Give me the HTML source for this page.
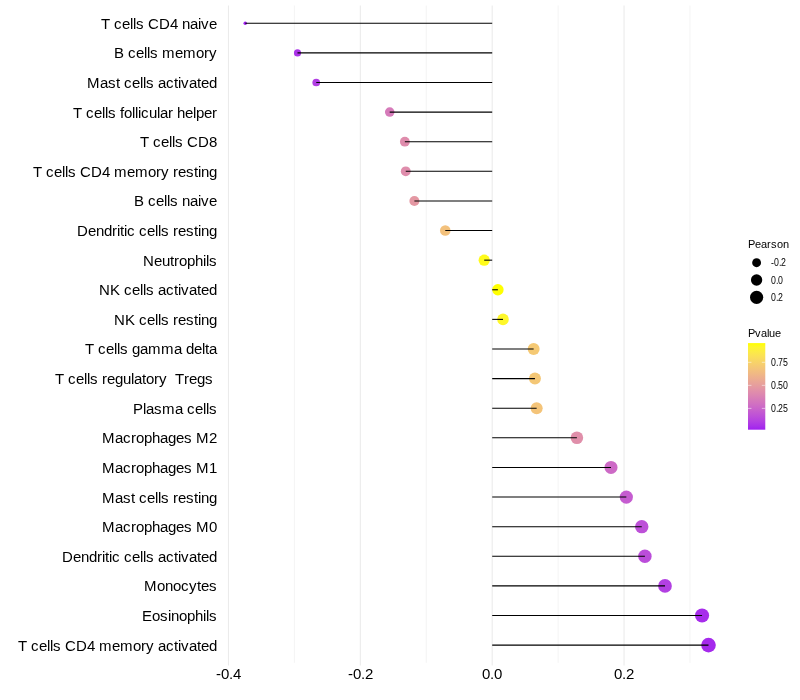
<!DOCTYPE html>
<html><head><meta charset="utf-8"><title>Lollipop</title>
<style>html,body{margin:0;padding:0;background:#fff;width:800px;height:700px;overflow:hidden}body{position:relative;font-family:"Liberation Sans",sans-serif}svg text{white-space:pre;font-family:"Liberation Sans",sans-serif}</style>
</head><body>
<svg width="800" height="700" viewBox="0 0 800 700" style="display:block;position:absolute;left:0;top:0;will-change:transform">
<rect width="800" height="700" fill="#fff"/>
<line x1="228.48" x2="228.48" y1="5.5" y2="665.62" stroke="#ebebeb" stroke-width="1.07"/>
<line x1="294.41" x2="294.41" y1="5.5" y2="662.87" stroke="#ebebeb" stroke-width="0.53"/>
<line x1="360.34" x2="360.34" y1="5.5" y2="665.62" stroke="#ebebeb" stroke-width="1.07"/>
<line x1="426.27" x2="426.27" y1="5.5" y2="662.87" stroke="#ebebeb" stroke-width="0.53"/>
<line x1="492.20" x2="492.20" y1="5.5" y2="665.62" stroke="#ebebeb" stroke-width="1.07"/>
<line x1="558.13" x2="558.13" y1="5.5" y2="662.87" stroke="#ebebeb" stroke-width="0.53"/>
<line x1="624.06" x2="624.06" y1="5.5" y2="665.62" stroke="#ebebeb" stroke-width="1.07"/>
<line x1="689.99" x2="689.99" y1="5.5" y2="662.87" stroke="#ebebeb" stroke-width="0.53"/>
<circle cx="245.25" cy="23.27" r="1.78" fill="#a020f0"/>
<circle cx="297.50" cy="52.88" r="3.57" fill="#ab33e8"/>
<circle cx="316.25" cy="82.49" r="3.86" fill="#b13ee3"/>
<circle cx="389.72" cy="112.10" r="4.76" fill="#d67bba"/>
<circle cx="404.85" cy="141.71" r="4.91" fill="#df8cac"/>
<circle cx="405.75" cy="171.32" r="4.92" fill="#df8dac"/>
<circle cx="414.40" cy="200.93" r="5.00" fill="#e498a3"/>
<circle cx="445.26" cy="230.55" r="5.28" fill="#f3c17c"/>
<circle cx="484.20" cy="260.16" r="5.61" fill="#fffb1a"/>
<circle cx="497.90" cy="289.77" r="5.72" fill="#ffff00"/>
<circle cx="503.00" cy="319.38" r="5.76" fill="#fef72a"/>
<circle cx="533.65" cy="348.99" r="5.99" fill="#f5c974"/>
<circle cx="534.95" cy="378.60" r="5.99" fill="#f4c776"/>
<circle cx="536.65" cy="408.21" r="6.01" fill="#f4c479"/>
<circle cx="576.90" cy="437.82" r="6.29" fill="#e08faa"/>
<circle cx="611.00" cy="467.44" r="6.52" fill="#cd6ac6"/>
<circle cx="626.33" cy="497.05" r="6.61" fill="#c55cd0"/>
<circle cx="641.75" cy="526.66" r="6.71" fill="#bd50d8"/>
<circle cx="644.90" cy="556.27" r="6.73" fill="#bb4dda"/>
<circle cx="665.00" cy="585.88" r="6.85" fill="#b240e2"/>
<circle cx="702.06" cy="615.49" r="7.07" fill="#a72ceb"/>
<circle cx="708.50" cy="645.10" r="7.31" fill="#a52aec"/>
<line x1="245.25" x2="492.20" y1="23.27" y2="23.27" stroke="#000" stroke-width="1.07"/>
<line x1="297.50" x2="492.20" y1="52.88" y2="52.88" stroke="#000" stroke-width="1.07"/>
<line x1="316.25" x2="492.20" y1="82.49" y2="82.49" stroke="#000" stroke-width="1.07"/>
<line x1="389.72" x2="492.20" y1="112.10" y2="112.10" stroke="#000" stroke-width="1.07"/>
<line x1="404.85" x2="492.20" y1="141.71" y2="141.71" stroke="#000" stroke-width="1.07"/>
<line x1="405.75" x2="492.20" y1="171.32" y2="171.32" stroke="#000" stroke-width="1.07"/>
<line x1="414.40" x2="492.20" y1="200.93" y2="200.93" stroke="#000" stroke-width="1.07"/>
<line x1="445.26" x2="492.20" y1="230.55" y2="230.55" stroke="#000" stroke-width="1.07"/>
<line x1="484.20" x2="492.20" y1="260.16" y2="260.16" stroke="#000" stroke-width="1.07"/>
<line x1="497.90" x2="492.20" y1="289.77" y2="289.77" stroke="#000" stroke-width="1.07"/>
<line x1="503.00" x2="492.20" y1="319.38" y2="319.38" stroke="#000" stroke-width="1.07"/>
<line x1="533.65" x2="492.20" y1="348.99" y2="348.99" stroke="#000" stroke-width="1.07"/>
<line x1="534.95" x2="492.20" y1="378.60" y2="378.60" stroke="#000" stroke-width="1.07"/>
<line x1="536.65" x2="492.20" y1="408.21" y2="408.21" stroke="#000" stroke-width="1.07"/>
<line x1="576.90" x2="492.20" y1="437.82" y2="437.82" stroke="#000" stroke-width="1.07"/>
<line x1="611.00" x2="492.20" y1="467.44" y2="467.44" stroke="#000" stroke-width="1.07"/>
<line x1="626.33" x2="492.20" y1="497.05" y2="497.05" stroke="#000" stroke-width="1.07"/>
<line x1="641.75" x2="492.20" y1="526.66" y2="526.66" stroke="#000" stroke-width="1.07"/>
<line x1="644.90" x2="492.20" y1="556.27" y2="556.27" stroke="#000" stroke-width="1.07"/>
<line x1="665.00" x2="492.20" y1="585.88" y2="585.88" stroke="#000" stroke-width="1.07"/>
<line x1="702.06" x2="492.20" y1="615.49" y2="615.49" stroke="#000" stroke-width="1.07"/>
<line x1="708.50" x2="492.20" y1="645.10" y2="645.10" stroke="#000" stroke-width="1.07"/>
<g font-family="Liberation Sans, sans-serif" fill="#000">
<text x="101 110 114 122 130 133 136 144 148 159 170 178 182 190 198 201 209" y="0" transform="translate(0,29) scale(1,1.03)" font-size="15" xml:space="preserve">T cells CD4 naive</text>
<text x="114 124 128 136 144 147 150 158 162 175 183 196 204 209" y="0" transform="translate(0,58) scale(1,1.03)" font-size="15" xml:space="preserve">B cells memory</text>
<text x="87 100 108 116 120 124 132 140 143 146 154 158 166 174 178 181 189 197 201 209" y="0" transform="translate(0,88) scale(1,1.03)" font-size="15" xml:space="preserve">Mast cells activated</text>
<text x="73 82 86 94 102 105 108 116 120 124 132 135 138 141 149 157 160 168 173 177 185 193 196 204 212" y="0" transform="translate(0,118) scale(1,1.03)" font-size="15" xml:space="preserve">T cells follicular helper</text>
<text x="140 149 153 161 169 172 175 183 187 198 209" y="0" transform="translate(0,147) scale(1,1.03)" font-size="15" xml:space="preserve">T cells CD8</text>
<text x="33 42 46 54 62 65 68 76 80 91 102 110 114 127 135 148 156 161 169 173 178 186 194 198 201 209" y="0" transform="translate(0,177) scale(1,1.03)" font-size="15" xml:space="preserve">T cells CD4 memory resting</text>
<text x="134 144 148 156 164 167 170 178 182 190 198 201 209" y="0" transform="translate(0,206) scale(1,1.03)" font-size="15" xml:space="preserve">B cells naive</text>
<text x="77 88 96 104 112 117 120 124 127 135 139 147 155 158 161 169 173 178 186 194 198 201 209" y="0" transform="translate(0,236) scale(1,1.03)" font-size="15" xml:space="preserve">Dendritic cells resting</text>
<text x="143 154 162 170 174 179 187 195 203 206 209" y="0" transform="translate(0,266) scale(1,1.03)" font-size="15" xml:space="preserve">Neutrophils</text>
<text x="99 110 120 124 132 140 143 146 154 158 166 174 178 181 189 197 201 209" y="0" transform="translate(0,295) scale(1,1.03)" font-size="15" xml:space="preserve">NK cells activated</text>
<text x="114 125 135 139 147 155 158 161 169 173 178 186 194 198 201 209" y="0" transform="translate(0,325) scale(1,1.03)" font-size="15" xml:space="preserve">NK cells resting</text>
<text x="85 94 98 106 114 117 120 128 132 140 148 161 174 182 186 194 202 205 209" y="0" transform="translate(0,354) scale(1,1.03)" font-size="15" xml:space="preserve">T cells gamma delta</text>
<text x="55 64 68 76 84 87 90 98 102 107 115 123 131 134 142 146 154 159 167 171 175 184 189 197 205 213" y="0" transform="translate(0,384) scale(1,1.03)" font-size="15" xml:space="preserve">T cells regulatory  Tregs </text>
<text x="133 143 146 154 162 175 183 187 195 203 206 209" y="0" transform="translate(0,414) scale(1,1.03)" font-size="15" xml:space="preserve">Plasma cells</text>
<text x="102 115 123 131 136 144 152 160 168 176 184 192 196 209" y="0" transform="translate(0,443) scale(1,1.03)" font-size="15" xml:space="preserve">Macrophages M2</text>
<text x="102 115 123 131 136 144 152 160 168 176 184 192 196 209" y="0" transform="translate(0,473) scale(1,1.03)" font-size="15" xml:space="preserve">Macrophages M1</text>
<text x="102 115 123 131 135 139 147 155 158 161 169 173 178 186 194 198 201 209" y="0" transform="translate(0,503) scale(1,1.03)" font-size="15" xml:space="preserve">Mast cells resting</text>
<text x="102 115 123 131 136 144 152 160 168 176 184 192 196 209" y="0" transform="translate(0,532) scale(1,1.03)" font-size="15" xml:space="preserve">Macrophages M0</text>
<text x="62 73 81 89 97 102 105 109 112 120 124 132 140 143 146 154 158 166 174 178 181 189 197 201 209" y="0" transform="translate(0,562) scale(1,1.03)" font-size="15" xml:space="preserve">Dendritic cells activated</text>
<text x="144 157 165 173 181 189 197 201 209" y="0" transform="translate(0,591) scale(1,1.03)" font-size="15" xml:space="preserve">Monocytes</text>
<text x="142 152 160 168 171 179 187 195 203 206 209" y="0" transform="translate(0,621) scale(1,1.03)" font-size="15" xml:space="preserve">Eosinophils</text>
<text x="18 27 31 39 47 50 53 61 65 76 87 95 99 112 120 133 141 146 154 158 166 174 178 181 189 197 201 209" y="0" transform="translate(0,651) scale(1,1.03)" font-size="15" xml:space="preserve">T cells CD4 memory activated</text>
</g>
<g font-family="Liberation Sans, sans-serif" fill="#000">
<text x="216 221 229 233" y="0" transform="translate(0,679) scale(1,1.03)" font-size="15" xml:space="preserve">-0.4</text>
<text x="348 353 361 365" y="0" transform="translate(0,679) scale(1,1.03)" font-size="15" xml:space="preserve">-0.2</text>
<text x="482 490 494" y="0" transform="translate(0,679) scale(1,1.03)" font-size="15" xml:space="preserve">0.0</text>
<text x="614 622 626" y="0" transform="translate(0,679) scale(1,1.03)" font-size="15" xml:space="preserve">0.2</text>
</g>
<g font-family="Liberation Sans, sans-serif" fill="#000">
<text x="748 755 761 767 771 777 783" y="248" font-size="11" xml:space="preserve">Pearson</text>
<circle cx="756.6" cy="262.74" r="4.43" fill="#000"/>
<text x="771 774 779 781" y="0" transform="translate(0,266) scale(1,1.14)" font-size="8.8" xml:space="preserve">-0.2</text>
<circle cx="756.6" cy="280.02" r="5.67" fill="#000"/>
<text x="771 776 778" y="0" transform="translate(0,284) scale(1,1.14)" font-size="8.8" xml:space="preserve">0.0</text>
<circle cx="756.6" cy="297.30" r="6.60" fill="#000"/>
<text x="771 776 778" y="0" transform="translate(0,301) scale(1,1.14)" font-size="8.8" xml:space="preserve">0.2</text>
<text x="748 755 761 767 769 775" y="337" font-size="11" xml:space="preserve">Pvalue</text>
<defs><linearGradient id="cb" x1="0" y1="1" x2="0" y2="0">
<stop offset="0.00" stop-color="#a020f0"/>
<stop offset="0.05" stop-color="#aa33e8"/>
<stop offset="0.10" stop-color="#b441e1"/>
<stop offset="0.15" stop-color="#bc4ed9"/>
<stop offset="0.20" stop-color="#c35ad1"/>
<stop offset="0.25" stop-color="#ca66c9"/>
<stop offset="0.30" stop-color="#d171c1"/>
<stop offset="0.35" stop-color="#d67bb9"/>
<stop offset="0.40" stop-color="#dc86b1"/>
<stop offset="0.45" stop-color="#e190a9"/>
<stop offset="0.50" stop-color="#e59ba0"/>
<stop offset="0.55" stop-color="#e9a597"/>
<stop offset="0.60" stop-color="#edaf8e"/>
<stop offset="0.65" stop-color="#f0b984"/>
<stop offset="0.70" stop-color="#f3c37a"/>
<stop offset="0.75" stop-color="#f6cd6f"/>
<stop offset="0.80" stop-color="#f8d763"/>
<stop offset="0.85" stop-color="#fbe156"/>
<stop offset="0.90" stop-color="#fceb46"/>
<stop offset="0.95" stop-color="#fef530"/>
<stop offset="1.00" stop-color="#ffff00"/>
</linearGradient></defs>
<rect x="748.0" y="343.1" width="17.28" height="86.60" fill="url(#cb)"/>
<line x1="748.0" x2="751.46" y1="408.39" y2="408.39" stroke="#fff" stroke-width="0.53"/>
<line x1="761.82" x2="765.28" y1="408.39" y2="408.39" stroke="#fff" stroke-width="0.53"/>
<text x="771 776 778 783" y="0" transform="translate(0,412) scale(1,1.14)" font-size="8.8" xml:space="preserve">0.25</text>
<line x1="748.0" x2="751.46" y1="385.35" y2="385.35" stroke="#fff" stroke-width="0.53"/>
<line x1="761.82" x2="765.28" y1="385.35" y2="385.35" stroke="#fff" stroke-width="0.53"/>
<text x="771 776 778 783" y="0" transform="translate(0,389) scale(1,1.14)" font-size="8.8" xml:space="preserve">0.50</text>
<line x1="748.0" x2="751.46" y1="362.30" y2="362.30" stroke="#fff" stroke-width="0.53"/>
<line x1="761.82" x2="765.28" y1="362.30" y2="362.30" stroke="#fff" stroke-width="0.53"/>
<text x="771 776 778 783" y="0" transform="translate(0,366) scale(1,1.14)" font-size="8.8" xml:space="preserve">0.75</text>
</g>
</svg>
</body></html>
